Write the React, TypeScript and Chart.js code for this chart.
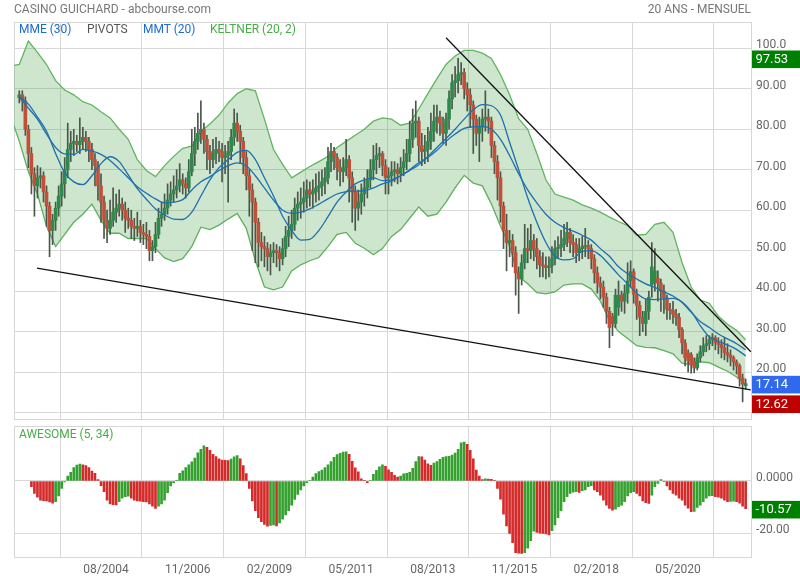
import React, { useEffect, useRef } from "react";
import { Chart, registerables } from "chart.js";

Chart.register(...registerables);
Chart.defaults.font.family = "Roboto";

// ---------- DATA ----------
// month index 0 = 05/2002 ... 240 = 05/2022
const TICK_MONTHS = [27, 54, 81, 108, 135, 162, 189, 216];
const TICK_LABELS = ["08/2004", "11/2006", "02/2009", "05/2011", "08/2013", "11/2015", "02/2018", "05/2020"];
const PRICE_TICKS = [10, 20, 30, 40, 50, 60, 70, 80, 90, 100];
const AO_TICKS = [0, -20];

const OPEN = [
  87.8, 88.5, 87.0, 80.0, 74.0, 69.0, 66.0, 68.0, 68.5, 64.5, 61.0, 55.0,
  57.5, 60.5, 63.5, 66.5, 70.0, 75.0, 76.5, 77.0, 76.2, 77.0, 78.0, 77.0,
  75.0, 72.5, 71.0, 66.0, 62.0, 57.5, 55.5, 57.5, 59.5, 60.5, 61.5, 60.0,
  58.0, 57.5, 56.0, 55.5, 56.0, 54.5, 54.0, 53.5, 50.0, 51.0, 54.0, 58.0,
  59.0, 60.5, 62.5, 64.0, 65.0, 66.0, 67.5, 66.5, 65.5, 69.5, 74.0, 77.0,
  79.0, 80.0, 77.5, 74.5, 72.5, 74.0, 75.0, 74.5, 73.0, 73.5, 74.5, 78.0,
  81.5, 79.5, 77.0, 73.0, 68.5, 65.0, 62.0, 57.0, 52.0, 51.0, 50.5, 48.5,
  49.5, 50.0, 49.5, 48.0, 50.5, 53.5, 55.0, 56.5, 60.5, 61.5, 62.0, 63.0,
  65.0, 64.0, 64.5, 65.5, 66.0, 67.0, 68.0, 72.0, 74.5, 73.0, 70.5, 69.5,
  70.5, 72.5, 68.0, 64.5, 60.5, 62.0, 64.0, 65.5, 67.5, 70.0, 72.5, 73.5,
  74.0, 71.0, 68.0, 68.5, 69.5, 70.0, 69.0, 70.5, 72.0, 74.0, 77.5, 81.5,
  82.0, 76.0, 74.5, 75.0, 77.0, 79.5, 82.0, 83.0, 81.5, 79.0, 82.5, 87.5,
  91.5, 92.0, 93.5, 94.0, 90.0, 88.5, 86.0, 82.5, 79.0, 80.5, 82.5, 83.0,
  82.0, 76.0, 72.0, 68.0, 61.0, 55.0, 52.0, 52.5, 49.5, 44.5, 43.0, 47.0,
  50.5, 50.0, 52.5, 50.5, 48.5, 46.5, 46.2, 45.8, 46.3, 48.0, 50.5, 50.8,
  51.5, 53.0, 54.5, 52.0, 51.5, 49.5, 50.5, 51.0, 51.3, 50.5, 48.0, 44.5,
  42.0, 41.0, 38.5, 35.0, 33.8, 32.0, 36.0, 39.0, 37.5, 39.5, 42.5, 44.8,
  39.2, 36.5, 33.5, 32.0, 35.0, 41.6, 42.0, 43.2, 42.0, 40.0, 38.3, 35.5,
  35.2, 34.3, 33.5, 30.5, 27.2, 24.7, 24.3, 22.6, 21.0, 23.5, 25.0, 26.5,
  27.0, 28.0, 28.5, 27.2, 26.8, 26.0, 24.8, 24.2, 23.5, 22.5, 21.5, 18.5,
  16.6,
];
const HIGH = [
  89.5, 89.5, 88.0, 81.0, 75.5, 70.5, 71.0, 70.5, 69.5, 66.0, 62.0, 59.0,
  62.0, 66.0, 69.5, 73.0, 81.5, 79.5, 80.0, 78.5, 82.8, 80.5, 79.5, 78.0,
  76.5, 74.0, 72.0, 69.0, 63.5, 60.0, 62.5, 65.5, 64.0, 65.0, 63.0, 62.0,
  60.5, 60.0, 58.0, 59.5, 57.5, 56.5, 57.0, 55.0, 52.5, 57.0, 60.5, 62.0,
  64.0, 66.5, 67.0, 68.5, 70.0, 71.5, 69.0, 68.0, 72.5, 80.0, 80.5, 84.0,
  87.0, 81.5, 78.5, 76.0, 77.5, 78.0, 77.0, 76.5, 76.0, 77.0, 80.0, 85.0,
  84.0, 81.0, 78.0, 74.5, 70.0, 66.5, 63.0, 58.0, 54.5, 53.5, 52.0, 51.5,
  52.0, 51.5, 51.0, 53.0, 56.0, 58.5, 60.0, 63.0, 64.5, 65.5, 67.0, 67.5,
  67.0, 67.5, 69.0, 69.5, 70.0, 70.5, 75.5, 76.5, 75.5, 74.0, 72.5, 73.0,
  77.5, 73.5, 69.5, 66.0, 65.0, 66.5, 68.0, 70.0, 72.5, 76.0, 76.5, 75.5,
  74.5, 72.5, 70.5, 72.0, 72.0, 71.5, 73.0, 75.0, 77.5, 82.0, 85.0, 87.0,
  83.0, 79.0, 78.5, 80.5, 84.0, 86.0, 86.0, 84.5, 83.0, 84.0, 89.5, 93.5,
  95.5, 97.53, 96.5, 95.0, 91.5, 90.0, 87.0, 83.5, 83.0, 85.0, 89.5, 85.0,
  83.0, 77.0, 73.5, 69.5, 62.0, 59.0, 55.0, 54.0, 51.0, 46.0, 49.0, 56.5,
  55.5, 56.5, 54.0, 53.0, 50.0, 49.5, 48.5, 48.5, 51.0, 52.5, 53.5, 55.0,
  56.5, 57.0, 55.5, 54.0, 53.0, 53.0, 53.5, 55.5, 52.5, 51.5, 49.0, 46.0,
  43.5, 42.5, 39.5, 36.0, 34.5, 40.5, 42.5, 40.0, 41.5, 47.0, 47.5, 45.5,
  40.5, 37.5, 35.0, 38.0, 40.0, 52.0, 50.5, 45.0, 43.0, 41.5, 39.0, 37.0,
  37.5, 35.5, 34.5, 31.0, 28.0, 25.5, 24.8, 23.5, 24.5, 26.5, 28.5, 29.0,
  29.0, 29.5, 29.0, 28.5, 28.0, 28.5, 27.0, 25.5, 24.0, 23.0, 22.0, 19.5,
  18.3,
];
const LOW = [
  86.5, 84.5, 78.5, 70.5, 64.0, 58.5, 63.0, 65.5, 62.0, 56.0, 48.5, 51.5,
  55.0, 58.5, 61.0, 63.0, 68.0, 72.0, 73.5, 74.5, 74.0, 75.0, 74.5, 72.0,
  70.0, 66.0, 62.5, 57.0, 53.0, 52.0, 54.0, 56.0, 57.0, 58.5, 57.5, 54.5,
  55.5, 53.0, 52.5, 53.5, 52.0, 51.5, 50.5, 47.5, 47.5, 49.5, 53.0, 56.0,
  57.5, 59.0, 61.0, 62.0, 63.0, 64.5, 64.0, 63.0, 64.5, 68.5, 71.0, 75.0,
  76.5, 74.0, 70.0, 69.0, 70.5, 71.5, 72.0, 67.0, 69.0, 62.0, 72.5, 76.0,
  77.0, 71.5, 69.0, 65.0, 58.5, 50.0, 47.0, 46.0, 47.5, 46.0, 45.0, 44.0,
  47.0, 46.0, 45.0, 46.5, 48.5, 51.0, 53.0, 55.0, 57.5, 58.0, 59.5, 60.5,
  61.0, 60.5, 62.0, 62.5, 63.5, 64.0, 66.5, 69.5, 70.0, 67.5, 66.0, 67.0,
  68.5, 62.0, 57.0, 55.0, 57.5, 59.0, 61.0, 63.0, 65.5, 67.5, 69.0, 70.5,
  68.5, 64.0, 64.0, 66.0, 67.0, 66.5, 67.0, 68.5, 70.0, 72.0, 75.5, 78.0,
  72.0, 71.0, 71.5, 72.0, 75.0, 77.0, 79.0, 78.5, 76.5, 76.0, 80.0, 85.0,
  88.0, 89.0, 91.0, 87.5, 84.5, 80.5, 74.0, 76.0, 72.0, 77.0, 79.5, 79.0,
  73.0, 69.0, 62.5, 57.0, 50.5, 45.0, 48.5, 46.0, 39.0, 34.5, 41.5, 45.5,
  47.0, 48.0, 47.5, 45.5, 43.5, 43.5, 43.0, 43.5, 44.5, 46.5, 48.0, 48.5,
  50.0, 51.0, 49.5, 48.5, 47.0, 47.5, 48.0, 48.5, 48.0, 45.5, 42.0, 39.5,
  38.0, 36.0, 32.0, 26.0, 29.0, 31.0, 34.0, 35.0, 34.5, 37.0, 41.0, 37.0,
  33.0, 29.0, 30.0, 29.0, 33.0, 38.5, 40.0, 37.5, 35.0, 34.5, 33.0, 33.0,
  32.0, 31.5, 28.5, 24.5, 21.5, 20.0, 19.7, 19.8, 20.5, 22.5, 24.0, 25.0,
  25.5, 26.5, 25.5, 24.5, 23.5, 23.0, 22.5, 21.5, 20.5, 19.5, 16.5, 12.62,
  15.8,
];
const CLOSE = [
  88.5, 87.0, 80.0, 74.0, 69.0, 66.0, 68.0, 68.5, 64.5, 61.0, 55.0, 57.5,
  60.5, 63.5, 66.5, 70.0, 75.0, 76.5, 77.0, 76.2, 77.0, 78.0, 77.0, 75.0,
  72.5, 71.0, 66.0, 62.0, 57.5, 55.5, 57.5, 59.5, 60.5, 61.5, 60.0, 58.0,
  57.5, 56.0, 55.5, 56.0, 54.5, 54.0, 53.5, 50.0, 51.0, 54.0, 58.0, 59.0,
  60.5, 62.5, 64.0, 65.0, 66.0, 67.5, 66.5, 65.5, 69.5, 74.0, 77.0, 79.0,
  80.0, 77.5, 74.5, 72.5, 74.0, 75.0, 74.5, 73.0, 73.5, 74.5, 78.0, 81.5,
  79.5, 77.0, 73.0, 68.5, 65.0, 62.0, 57.0, 52.0, 51.0, 50.5, 48.5, 49.5,
  50.0, 49.5, 48.0, 50.5, 53.5, 55.0, 56.5, 60.5, 61.5, 62.0, 63.0, 65.0,
  64.0, 64.5, 65.5, 66.0, 67.0, 68.0, 72.0, 74.5, 73.0, 70.5, 69.5, 70.5,
  72.5, 68.0, 64.5, 60.5, 62.0, 64.0, 65.5, 67.5, 70.0, 72.5, 73.5, 74.0,
  71.0, 68.0, 68.5, 69.5, 70.0, 69.0, 70.5, 72.0, 74.0, 77.5, 81.5, 82.0,
  76.0, 74.5, 75.0, 77.0, 79.5, 82.0, 83.0, 81.5, 79.0, 82.5, 87.5, 91.5,
  92.0, 93.5, 94.0, 90.0, 88.5, 86.0, 82.5, 79.0, 80.5, 82.5, 83.0, 82.0,
  76.0, 72.0, 68.0, 61.0, 55.0, 52.0, 52.5, 49.5, 44.5, 43.0, 47.0, 50.5,
  50.0, 52.5, 50.5, 48.5, 46.5, 46.2, 45.8, 46.3, 48.0, 50.5, 50.8, 51.5,
  53.0, 54.5, 52.0, 51.5, 49.5, 50.5, 51.0, 51.3, 50.5, 48.0, 44.5, 42.0,
  41.0, 38.5, 35.0, 31.0, 32.0, 39.0, 39.0, 37.5, 39.5, 42.5, 44.8, 39.2,
  36.5, 33.5, 32.0, 35.0, 38.5, 46.0, 45.0, 42.0, 40.0, 38.3, 35.5, 35.2,
  34.3, 33.5, 30.5, 27.2, 23.5, 22.8, 21.8, 21.0, 23.5, 25.0, 26.5, 27.0,
  28.0, 28.5, 27.2, 26.8, 26.0, 24.8, 24.2, 23.5, 22.5, 21.5, 18.5, 17.0,
  17.14,
];

// Awesome oscillator (5, 34), one value per month
const AO = [
  null, null, null, null, -2.2, -4.7, -6.2, -7.3, -7.5, -7.6, -8.0, -8.5,
  -7.9, -5.7, -2.8, -0.4, 1.9, 3.3, 5.1, 6.1, 6.5, 6.2, 5.9, 5.1,
  3.8, 2.9, 0.5, -1.8, -4.1, -7.3, -8.8, -9.0, -9.1, -7.9, -6.6, -6.0,
  -5.8, -6.6, -7.3, -7.6, -7.7, -7.9, -8.0, -8.8, -9.6, -10.5, -9.6, -8.8,
  -7.3, -4.5, -1.9, -0.6, 0.3, 2.9, 3.9, 5.1, 6.2, 7.3, 8.8, 10.8,
  12.1, 13.4, 12.9, 11.7, 10.2, 9.3, 8.5, 8.0, 7.9, 7.8, 8.4, 9.2,
  9.7, 8.5, 5.9, 2.8, -2.8, -7.6, -11.3, -14.0, -15.5, -16.6, -17.3, -17.0,
  -16.8, -17.2, -16.0, -14.6, -13.0, -11.3, -9.2, -7.0, -5.1, -3.4, -1.9, -0.6,
  0.3, 1.5, 2.8, 3.6, 4.2, 5.1, 6.2, 7.4, 9.0, 10.1, 10.6, 11.0,
  11.1, 10.2, 7.5, 5.0, 3.5, 0.8, 0.1, -0.6, 0.3, 2.5, 4.1, 5.4,
  6.2, 5.6, 4.3, 3.3, 2.2, 1.5, 1.9, 2.7, 2.9, 3.3, 4.8, 7.4,
  9.3, 9.2, 8.0, 6.6, 6.0, 6.8, 7.4, 8.3, 9.0, 9.3, 9.4, 9.9,
  10.7, 12.1, 14.6, 14.9, 14.0, 11.7, 8.5, 4.2, 1.9, 0.5, 0.8, 0.7,
  0.6, 0.1, -2.8, -6.9, -12.7, -17.2, -20.0, -23.6, -27.4, -27.6, -27.7, -27.4,
  -25.7, -22.8, -19.2, -19.6, -19.9, -20.0, -20.2, -20.6, -19.0, -16.8, -14.0, -11.3,
  -7.9, -6.0, -4.7, -4.3, -4.1, -4.4, -3.7, -3.4, -2.2, -1.8, -3.4, -4.1,
  -5.4, -7.3, -9.2, -10.5, -11.1, -10.8, -9.8, -9.2, -7.9, -5.7, -4.5, -4.1,
  -4.7, -5.7, -7.6, -8.3, -8.6, -5.4, -2.2, -0.9, 0.5, -0.3, -1.9, -3.4,
  -4.7, -5.4, -6.6, -7.3, -9.2, -10.4, -11.7, -11.6, -10.1, -9.2, -7.9, -6.6,
  -5.7, -5.6, -6.0, -6.2, -6.6, -7.3, -7.9, -7.8, -7.7, -7.9, -8.5, -9.6,
  -10.57,
];

// Indicator lines read every 3 months (month 0, 3, 6 ... 240)
const LINE_X = Array.from({ length: 81 }, (_, k) => k * 3);
const BAND_X = [-1.75, ...LINE_X];
const KELTNER_UP = [
  95.8,
  96.0, 101.8, 99.0, 96.0, 92.0, 89.7, 88.5, 86.8, 86.0, 84.3,
  82.8, 80.0, 77.5, 72.5, 69.8, 68.3, 71.0, 73.3, 75.3, 75.8,
  79.5, 81.3, 83.5, 86.5, 88.8, 90.0, 89.5, 82.5, 75.0, 71.3,
  68.0, 69.4, 70.8, 72.0, 73.3, 75.5, 77.0, 78.5, 80.0, 82.0,
  82.8, 82.5, 81.0, 81.5, 85.0, 88.8, 92.5, 96.0, 98.1, 99.5,
  99.5, 98.8, 97.5, 93.5, 88.5, 82.6, 80.0, 74.0, 67.5, 64.0,
  63.2, 62.5, 61.3, 60.5, 59.5, 58.3, 57.2, 56.2, 53.8, 54.0,
  56.5, 57.0, 54.5, 47.0, 41.0, 37.8, 37.0, 33.8, 31.8, 30.3,
  28.0,
];
const KELTNER_LO = [
  80.8,
  77.0, 69.5, 64.0, 56.0, 51.0, 54.0, 57.0, 59.0, 61.5, 57.5,
  54.3, 54.3, 53.0, 53.0, 53.0, 50.5, 48.2, 47.3, 48.0, 51.0,
  55.8, 55.2, 56.3, 57.8, 59.2, 55.5, 47.5, 41.0, 40.3, 41.0,
  45.0, 46.5, 47.5, 48.3, 51.0, 54.0, 54.5, 51.8, 50.6, 49.0,
  50.5, 53.5, 55.2, 58.0, 60.8, 58.5, 59.0, 62.0, 65.5, 68.6,
  66.7, 66.0, 61.5, 56.0, 51.0, 43.6, 41.8, 39.6, 39.3, 39.8,
  41.5, 41.8, 41.8, 40.5, 37.5, 32.8, 30.0, 28.3, 26.5, 26.1,
  26.0, 25.3, 24.5, 22.2, 21.8, 22.5, 22.3, 21.2, 20.2, 18.8,
  16.9,
];
const MME30 = [
  88.0, 85.2, 82.5, 78.8, 75.5, 73.9, 73.8, 75.0, 74.6, 73.8,
  72.3, 70.2, 68.0, 65.8, 64.2, 62.8, 61.8, 62.0, 62.6, 65.0,
  67.0, 68.3, 69.8, 71.0, 71.7, 71.0, 68.5, 65.5, 62.5, 60.0,
  59.2, 59.5, 60.3, 61.5, 62.8, 64.0, 64.6, 64.7, 64.8, 65.5,
  66.5, 67.2, 68.5, 70.0, 71.7, 73.0, 74.8, 77.0, 78.8, 80.2,
  80.6, 80.7, 80.0, 77.5, 73.5, 69.0, 65.0, 61.8, 59.0, 57.0,
  55.7, 54.8, 53.8, 52.6, 50.5, 48.6, 46.0, 44.3, 43.0, 41.8,
  40.9, 39.8, 38.8, 37.2, 34.8, 32.5, 31.0, 29.4, 28.2, 27.0,
  25.5,
];
const MMT20 = [
  88.0, 86.2, 83.0, 79.5, 74.0, 69.3, 67.0, 66.3, 68.5, 71.5,
  73.2, 72.0, 68.7, 65.3, 62.7, 60.3, 58.8, 57.8, 57.7, 59.5,
  63.5, 67.5, 70.5, 72.5, 74.3, 74.8, 72.5, 68.0, 63.5, 58.5,
  55.0, 52.6, 52.8, 55.0, 58.4, 62.0, 64.5, 66.5, 67.5, 68.0,
  67.3, 67.5, 68.5, 69.8, 71.2, 73.3, 75.5, 77.7, 80.0, 82.5,
  84.8, 86.1, 85.8, 83.5, 76.8, 70.0, 63.0, 57.0, 52.0, 48.6,
  47.7, 48.0, 49.8, 50.0, 48.8, 46.5, 44.0, 41.8, 39.5, 38.1,
  37.9, 38.1, 38.2, 37.3, 35.0, 31.5, 28.7, 27.6, 26.7, 25.6,
  24.0,
];
// trend lines: [month, price] end points
const SUPPORT_X = [5.85, 241.7];
const SUPPORT_Y = [45.7, 15.6];
const RESIST_X = [141.0, 241.7];
const RESIST_Y = [102.6, 25.0];

// ---------- STYLE ----------
const GREEN = "#2e8a4c";
const RED = "#c24f38";
const WICK = "#4a574a";
const BLUE = "#1f6fae";
const BAND = "#62b462";
const GRID = "#d8d8d8";
const X_MIN = -1.75;
const X_MAX = 242.1;

const fmtPrice = (v: number) => (v >= 100 ? v.toFixed(1) : v.toFixed(2));
const fmtAo = (v: number) => (v === 0 ? "0.0000" : v.toFixed(2));

const framePlugin = {
  id: "frame",
  beforeDatasetsDraw(chart: any) {
    const { ctx, chartArea: a } = chart;
    ctx.save();
    ctx.strokeStyle = "#d6d6d6";
    ctx.lineWidth = 1;
    ctx.strokeRect(Math.round(a.left) + 0.5, Math.round(a.top) + 0.5, Math.round(a.right - a.left) - 1, Math.round(a.bottom - a.top) - 1);
    ctx.restore();
  },
};

const markerPlugin = (items: { value: number; bg: string }[], fmt: (v: number) => string) => ({
  id: "markers",
  afterDraw(chart: any) {
    const { ctx } = chart;
    const ys = chart.scales.y;
    const h = 17.6;
    let prevBottom = -Infinity;
    ctx.save();
    items.forEach((m) => {
      let top = ys.getPixelForValue(m.value) + 1 - h / 2;
      if (top < prevBottom + 2) top = prevBottom + 2;
      ctx.fillStyle = m.bg;
      ctx.fillRect(752, top, 48, h);
      ctx.fillStyle = "#ffffff";
      ctx.font = "13px Roboto";
      ctx.textBaseline = "middle";
      ctx.textAlign = "left";
      ctx.fillText(fmt(m.value), 755.5, top + h / 2 + 0.5);
      prevBottom = top + h;
    });
    ctx.restore();
  },
});

const xScale = (showLabels: boolean, height: number) => ({
  type: "linear",
  min: X_MIN,
  max: X_MAX,
  offset: false,
  grid: { color: GRID, drawTicks: false },
  border: { display: false },
  afterBuildTicks: (s: any) => {
    s.ticks = TICK_MONTHS.map((v) => ({ value: v }));
  },
  ticks: {
    display: showLabels,
    autoSkip: false,
    maxRotation: 0,
    color: "#666",
    font: { size: 12, family: "Roboto" },
    padding: 5,
    labelOffset: 5,
    callback: (v: number) => {
      const k = TICK_MONTHS.indexOf(v);
      return k >= 0 ? TICK_LABELS[k] : "";
    },
  },
  afterFit: (s: any) => {
    s.height = height;
    s.paddingLeft = 0;
    s.paddingRight = 0;
  },
});

const yScale = (min: number, max: number, ticks: number[], fmt: (v: number) => string) => ({
  position: "right",
  min,
  max,
  grid: { color: GRID, drawTicks: false },
  border: { display: false },
  afterBuildTicks: (s: any) => {
    s.ticks = ticks.map((v) => ({ value: v }));
  },
  ticks: {
    color: "#666",
    font: { size: 12, family: "Roboto" },
    padding: 4,
    labelOffset: -3,
    callback: (v: number) => fmt(v),
  },
  afterFit: (s: any) => {
    s.width = 48;
    s.paddingTop = 0;
    s.paddingBottom = 0;
  },
});

export default function App() {
  const priceRef = useRef<HTMLCanvasElement>(null);
  const aoRef = useRef<HTMLCanvasElement>(null);

  useEffect(() => {
    const bodies = OPEN.map((o, i) => ({ x: i, y: [o, CLOSE[i]] }));
    const bodyColors = OPEN.map((o, i) => (CLOSE[i] >= o ? GREEN : RED));
    const wicks = LOW.map((l, i) => ({ x: i, y: [l, HIGH[i]] }));
    const pts = (xs: number[], ys: number[]) => xs.map((x, k) => ({ x, y: ys[k] }));

    const maxHigh = Math.max(...HIGH);
    const minLow = Math.min(...LOW);
    const lastClose = CLOSE[CLOSE.length - 1];

    const priceChart = new Chart(priceRef.current as HTMLCanvasElement, {
      type: "bar",
      data: {
        datasets: [
          { type: "line", data: pts(RESIST_X, RESIST_Y), borderColor: "#111", borderWidth: 1.3, pointRadius: 0, order: 0 } as any,
          { type: "line", data: pts(SUPPORT_X, SUPPORT_Y), borderColor: "#111", borderWidth: 1.3, pointRadius: 0, order: 0 } as any,
          { type: "line", data: pts(LINE_X, MME30), borderColor: BLUE, borderWidth: 1.3, pointRadius: 0, cubicInterpolationMode: "monotone", order: 1 } as any,
          { type: "line", data: pts(LINE_X, MMT20), borderColor: BLUE, borderWidth: 1.3, pointRadius: 0, cubicInterpolationMode: "monotone", order: 1 } as any,
          { type: "bar", data: bodies, backgroundColor: bodyColors, barThickness: 3, grouped: false, minBarLength: 1, order: 2 } as any,
          { type: "bar", data: wicks, backgroundColor: WICK, barThickness: 1, grouped: false, order: 3 } as any,
          { type: "line", data: pts(BAND_X, KELTNER_UP), borderColor: BAND, borderWidth: 1.3, pointRadius: 0, fill: "+1", backgroundColor: "rgba(60,160,60,0.26)", order: 5 } as any,
          { type: "line", data: pts(BAND_X, KELTNER_LO), borderColor: BAND, borderWidth: 1.3, pointRadius: 0, fill: false, order: 5 } as any,
        ],
      },
      options: {
        animation: false,
        responsive: false,
        maintainAspectRatio: false,
        layout: { padding: { left: 14, top: 22, right: 0, bottom: 2 } },
        plugins: { legend: { display: false }, tooltip: { enabled: false } },
        scales: {
          x: xScale(false, 0) as any,
          y: yScale(8.15, 106.5, PRICE_TICKS, fmtPrice) as any,
        },
      },
      plugins: [
        framePlugin,
        markerPlugin(
          [
            { value: maxHigh, bg: "#008000" },
            { value: lastClose, bg: "#3169ec" },
            { value: minLow, bg: "#bd0000" },
          ],
          (v) => v.toFixed(2)
        ),
      ],
    } as any);

    const aoData = AO.map((v, i) => ({ x: i, y: v }));
    const aoColors = AO.map((v, i) => {
      const prev = i > 0 ? AO[i - 1] : null;
      return prev === null || v === null || v < prev ? "#d42a2a" : "#34a02e";
    });

    const aoChart = new Chart(aoRef.current as HTMLCanvasElement, {
      type: "bar",
      data: {
        datasets: [
          { type: "bar", data: aoData, backgroundColor: aoColors, barThickness: 2, grouped: false } as any,
        ],
      },
      options: {
        animation: false,
        responsive: false,
        maintainAspectRatio: false,
        layout: { padding: { left: 14, top: 3.5, right: 0, bottom: 0 } },
        plugins: { legend: { display: false }, tooltip: { enabled: false } },
        scales: {
          x: xScale(true, 22.3) as any,
          y: yScale(-29.3, 21.2, AO_TICKS, fmtAo) as any,
        },
      },
      plugins: [framePlugin, markerPlugin([{ value: AO[AO.length - 1] as number, bg: "#008000" }], (v) => v.toFixed(2))],
    } as any);

    return () => {
      priceChart.destroy();
      aoChart.destroy();
    };
  }, []);

  const txt = (extra: React.CSSProperties): React.CSSProperties => ({
    position: "absolute",
    font: "12px Roboto",
    lineHeight: "14px",
    whiteSpace: "nowrap",
    ...extra,
  });

  return (
    <div style={{ position: "absolute", left: 0, top: 0, width: 800, height: 580, background: "#fff", overflow: "hidden" }}>
      <canvas ref={priceRef} width={800} height={422} style={{ position: "absolute", left: 0, top: 0 }} />
      <canvas ref={aoRef} width={800} height={158} style={{ position: "absolute", left: 0, top: 422 }} />
      <div style={txt({ left: 14, top: 2, color: "#777" })}>CASINO GUICHARD - abcbourse.com</div>
      <div style={txt({ right: 49, top: 2, color: "#777" })}>20 ANS - MENSUEL</div>
      <div style={txt({ left: 19, top: 22, color: "#1b6bd0" })}>MME (30)</div>
      <div style={txt({ left: 87, top: 22, color: "#555" })}>PIVOTS</div>
      <div style={txt({ left: 143, top: 22, color: "#1b6bd0" })}>MMT (20)</div>
      <div style={txt({ left: 210, top: 22, color: "#4aab4a" })}>KELTNER (20, 2)</div>
      <div style={txt({ left: 19, top: 427, color: "#4aab4a" })}>AWESOME (5, 34)</div>
    </div>
  );
}
